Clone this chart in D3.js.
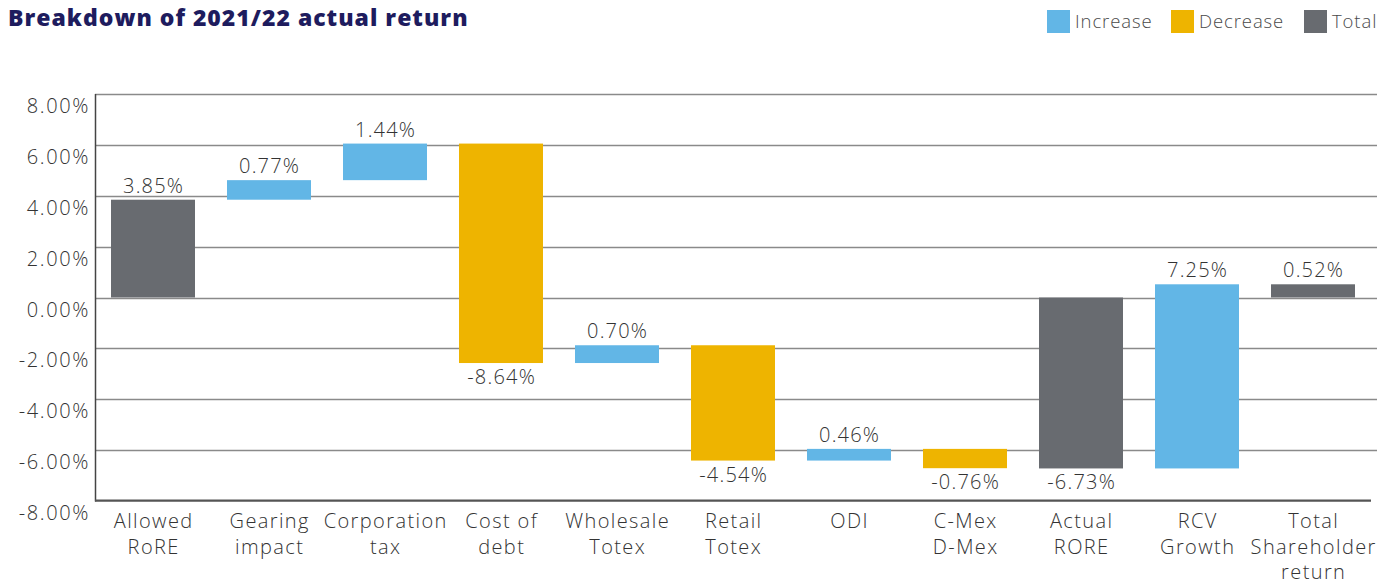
<!DOCTYPE html>
<html>
<head>
<meta charset="utf-8">
<script src="https://cdn.jsdelivr.net/npm/d3@7"></script>
<style>
  body { margin: 0; background: #fff; }
  svg text { font-family: "Open Sans", "Lato", sans-serif; }
</style>
</head>
<body>
<div class="vis-waterfall"></div>
<script>
// data
const categories = ["Allowed RoRE", "Gearing impact", "Corporation tax", "Cost of debt", "Wholesale Totex",
    "Retail Totex", "ODI", "C-Mex D-Mex", "Actual RORE", "RCV Growth", "Total Shareholder return"];
const catLines = [["Allowed", "RoRE"], ["Gearing", "impact"], ["Corporation", "tax"], ["Cost of", "debt"],
    ["Wholesale", "Totex"], ["Retail", "Totex"], ["ODI"], ["C-Mex", "D-Mex"], ["Actual", "RORE"],
    ["RCV", "Growth"], ["Total", "Shareholder", "return"]];
const values = [3.85, 0.77, 1.44, -8.64, 0.70, -4.54, 0.46, -0.76, -6.73, 7.25, 0.52];
const kinds = ["Total", "Increase", "Increase", "Decrease", "Increase", "Decrease", "Increase", "Decrease", "Total", "Increase", "Total"];
const yTicks = [-8, -6, -4, -2, 0, 2, 4, 6, 8];
const legendItems = ["Increase", "Decrease", "Total"];

const colors = {
    "Increase": "#62b6e6",
    "Decrease": "#eeb400",
    "Total": "#686b70"
};

const fmt = v => v.toFixed(2) + "%"; // plain hyphen, like the source

const width = 1392, height = 583;
const svg = d3.select(".vis-waterfall")
    .append("svg")
    .attr("width", width)
    .attr("height", height);

// build start/end for each step
let running = 0;
const data = categories.map((c, i) => {
    let start, end;
    if (kinds[i] === "Total") {
        start = 0; end = values[i];
        running = values[i];
    } else {
        start = running; end = running + values[i];
        running = end;
    }
    return {cat: c, lines: catLines[i], value: values[i], kind: kinds[i], start, end};
});

const xScale = d3.scaleBand()
    .domain(categories)
    .range([95, 1371])
    .paddingInner(0.276)
    .paddingOuter(0.138);

const yScale = d3.scaleLinear()
    .domain([-8, 8])
    .range([500.7, 94.3]);

// title
svg.append("text")
    .attr("x", 8)
    .attr("y", 26)
    .attr("fill", "#1e1c5e")
    .style("font-size", "23px")
    .style("font-weight", 800)
    .style("letter-spacing", "1px")
    .text("Breakdown of 2021/22 actual return");

// legend
const legendX = [1047, 1171, 1304];
const legend = svg.append("g").selectAll("g")
    .data(legendItems)
    .enter().append("g")
    .attr("transform", (d, i) => `translate(${legendX[i]}, 10)`);
legend.append("rect")
    .attr("width", 23)
    .attr("height", 23)
    .attr("fill", d => colors[d]);
legend.append("text")
    .attr("x", 28)
    .attr("y", 18)
    .attr("fill", "#4a4a4a")
    .style("font-size", "18.5px")
    .style("font-weight", 300)
    .style("letter-spacing", "0.9px")
    .text(d => d);

// grid
const grid = svg.append("g");
grid.selectAll("line")
    .data(yTicks.filter(t => t > -8))
    .enter().append("line")
    .attr("x1", 95)
    .attr("x2", 1377)
    .attr("y1", d => Math.round(yScale(d)) + 0.5)
    .attr("y2", d => Math.round(yScale(d)) + 0.5)
    .attr("stroke", "#8a8a8a")
    .attr("stroke-width", 1.3);

// y tick labels (sit a little below their lines, as in the source)
svg.append("g").selectAll("text")
    .data(yTicks)
    .enter().append("text")
    .attr("x", 90)
    .attr("y", d => yScale(d) + 19)
    .attr("text-anchor", "end")
    .attr("fill", "#333")
    .style("font-size", "20px")
    .style("font-weight", 300)
    .style("letter-spacing", "1.6px")
    .text(d => fmt(d));

// bars
svg.append("g").selectAll("rect")
    .data(data)
    .enter().append("rect")
    .attr("x", d => xScale(d.cat))
    .attr("width", xScale.bandwidth())
    .attr("y", d => yScale(Math.max(d.start, d.end)))
    .attr("height", d => Math.abs(yScale(d.start) - yScale(d.end)))
    .attr("fill", d => colors[d.kind]);

// axes lines
svg.append("line")
    .attr("x1", 95.5).attr("x2", 95.5)
    .attr("y1", 94).attr("y2", 501.5)
    .attr("stroke", "#444").attr("stroke-width", 1.5);
svg.append("line")
    .attr("x1", 95).attr("x2", 1371)
    .attr("y1", 500.7).attr("y2", 500.7)
    .attr("stroke", "#555").attr("stroke-width", 2.2);

// value labels
svg.append("g").selectAll("text")
    .data(data)
    .enter().append("text")
    .attr("x", d => xScale(d.cat) + xScale.bandwidth() / 2 + 0.6)
    .attr("y", d => d.value >= 0
        ? yScale(Math.max(d.start, d.end)) - 7
        : yScale(Math.min(d.start, d.end)) + 21)
    .attr("text-anchor", "middle")
    .attr("fill", "#333")
    .style("font-size", "20px")
    .style("font-weight", 300)
    .style("letter-spacing", "1.2px")
    .text(d => fmt(d.value));

// category labels
const catG = svg.append("g").selectAll("text")
    .data(data)
    .enter().append("text")
    .attr("text-anchor", "middle")
    .attr("fill", "#333")
    .style("font-size", "20px")
    .style("font-weight", 300)
    .style("letter-spacing", "1.4px");
catG.selectAll("tspan")
    .data(d => d.lines.map(l => ({l, x: xScale(d.cat) + xScale.bandwidth() / 2 + 0.7})))
    .enter().append("tspan")
    .attr("x", d => d.x)
    .attr("y", (d, i) => 528 + i * 25.5)
    .text(d => d.l);
</script>
</body>
</html>
